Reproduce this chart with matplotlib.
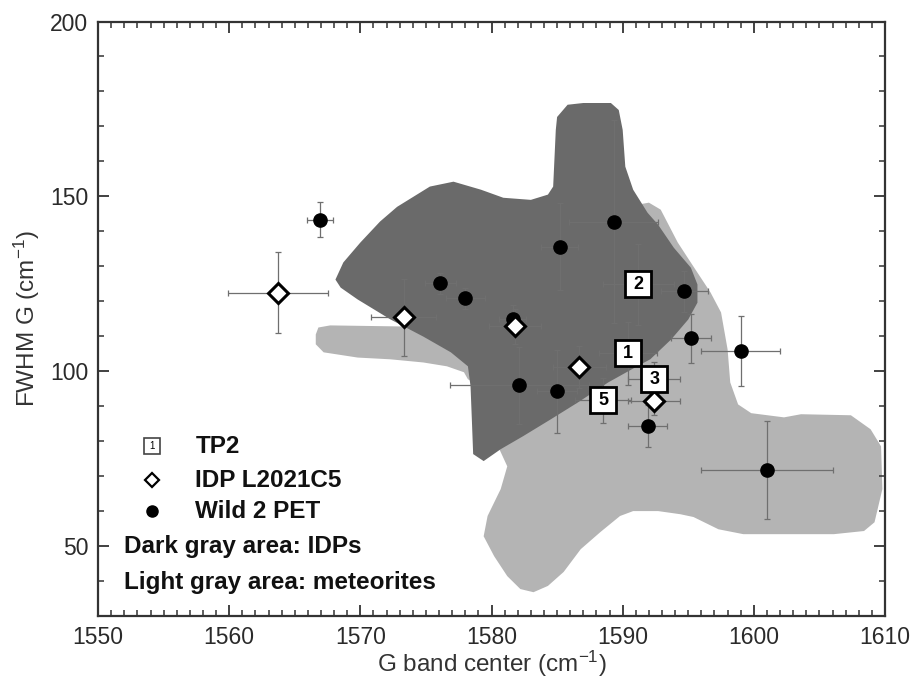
import numpy as np
import matplotlib
matplotlib.use("Agg")
import matplotlib.pyplot as plt
from matplotlib.ticker import MultipleLocator

plt.rcParams['font.family'] = ['Liberation Sans', 'DejaVu Sans']
plt.rcParams['mathtext.default'] = 'regular'

# --- outlines of the shaded fields (G center, FWHM G) ---
dark_x = [1568.1, 1568.7, 1570.0, 1571.5, 1572.8, 1575.3, 1577.1, 1579.2, 1580.9, 1583.0,
          1584.3, 1584.7, 1584.9, 1585.0, 1585.8, 1587.0, 1589.1, 1589.7, 1590.0, 1590.2,
          1590.8, 1591.9, 1592.7, 1593.9, 1595.2, 1595.7, 1595.7, 1595.0, 1593.7, 1592.1,
          1591.1, 1588.9, 1586.6, 1584.5, 1582.4, 1580.7, 1579.4, 1578.6, 1578.5, 1578.4,
          1578.2, 1576.9, 1574.8, 1572.3, 1569.8, 1568.5]
dark_y = [126.2, 131.1, 136.8, 142.8, 147.0, 152.8, 154.2, 151.9, 149.6, 149.0,
          150.5, 152.8, 169.0, 172.7, 176.2, 176.7, 176.7, 174.7, 169.0, 158.5,
          151.9, 145.3, 141.9, 135.3, 129.6, 124.8, 119.6, 114.8, 109.1, 103.4,
          101.4, 96.8, 91.1, 86.2, 81.4, 77.7, 74.3, 76.3, 86.2, 95.7,
          101.4, 105.4, 109.9, 114.8, 120.5, 123.9]

light_x = [1566.8, 1567.7, 1573.1, 1577.6, 1585.3, 1589.8, 1591.1, 1592.0, 1592.9, 1594.2,
           1595.4, 1596.7, 1597.5, 1598.0, 1598.2, 1598.8, 1599.8, 1602.3, 1603.6, 1607.4,
           1608.9, 1609.7, 1609.8, 1609.2, 1608.4, 1606.1, 1599.2, 1597.3, 1595.4, 1594.4,
           1592.7, 1590.8, 1589.8, 1588.3, 1586.8, 1585.5, 1584.3, 1583.2, 1582.2, 1581.2,
           1580.2, 1579.4, 1579.7, 1580.7, 1581.2, 1580.5, 1579.5, 1578.2, 1577.9, 1576.6,
           1574.8, 1572.3, 1569.8, 1567.2, 1566.6, 1566.6]
light_y = [112.5, 113.1, 112.8, 109.1, 134.8, 144.8, 147.6, 148.2, 146.2, 136.8,
           129.9, 122.5, 116.8, 106.2, 96.8, 90.5, 88.0, 86.8, 87.7, 87.4,
           83.4, 78.5, 66.3, 56.8, 54.3, 53.4, 53.4, 54.8, 58.3, 59.1,
           60.0, 60.0, 58.6, 54.0, 49.1, 42.6, 38.6, 36.8, 37.7, 41.4,
           47.1, 52.8, 58.6, 66.3, 72.8, 78.5, 95.0, 97.7, 99.7, 101.4,
           102.5, 103.4, 103.9, 105.4, 107.7, 110.5]

# --- Wild 2 PET particles ---
pet_x = [1566.9, 1576.1, 1578.0, 1585.2, 1589.3, 1594.7, 1595.2, 1599.0, 1582.1, 1585.0,
         1591.9, 1601.0, 1581.6]
pet_y = [143.3, 125.1, 120.8, 135.6, 142.8, 122.8, 109.4, 105.9, 96.0, 94.2,
         84.2, 71.7, 115.0]
pet_xerr = [1.0, 1.2, 1.5, 1.4, 3.4, 1.8, 1.5, 3.0, 5.3, 1.5, 1.5, 5.0, 1.0]
pet_yerr = [5, 3, 3, 12.5, 29, 6, 7, 10, 11, 12, 6, 14, 4]

# --- IDP L2021C5 ---
idp_x = [1563.7, 1573.3, 1581.8, 1586.7, 1592.4]
idp_y = [122.5, 115.4, 112.8, 101.1, 91.4]
idp_xerr = [3.8, 2.5, 2.0, 2.0, 2.0]
idp_yerr = [11.7, 11, 5, 6, 4]

# --- TP2 spots ---
tp2_x = [1590.4, 1591.2, 1592.4, 1588.5]
tp2_y = [105.1, 124.8, 97.7, 91.7]
tp2_labels = ['1', '2', '3', '5']
tp2_xerr = [2.2, 2.7, 2.0, 2.1]
tp2_yerr = [9, 11.5, 5, 6.5]

fig = plt.figure(figsize=(9.12, 6.79), dpi=100)
ax = fig.add_axes([0.1075, 0.0928, 0.8629, 0.8755])

ax.fill(light_x, light_y, color='#b4b4b4', lw=0, zorder=1)
ax.fill(dark_x, dark_y, color='#6a6a6a', lw=0, zorder=2)

eb = dict(fmt='none', ecolor='#6f6f6f', elinewidth=0.9, capsize=2.5, capthick=0.9, zorder=3)
ax.errorbar(pet_x, pet_y, xerr=pet_xerr, yerr=pet_yerr, **eb)
ax.errorbar(idp_x, idp_y, xerr=idp_xerr, yerr=idp_yerr, **eb)
ax.errorbar(tp2_x, tp2_y, xerr=tp2_xerr, yerr=tp2_yerr, **eb)

ax.plot(pet_x, pet_y, 'o', color='black', ms=9.5, zorder=4)
ax.plot(idp_x, idp_y, 'D', mfc='white', mec='black', mew=2.2, ms=10.5, zorder=5)
ax.plot(tp2_x, tp2_y, 's', mfc='white', mec='black', mew=2.0, ms=19, zorder=6)
for x, y, s in zip(tp2_x, tp2_y, tp2_labels):
    ax.text(x, y, s, ha='center', va='center', fontsize=13, fontweight='bold', zorder=7)

# legend block drawn by hand
tr = ax.transAxes
ax.plot([0.0688], [0.2855], 's', mfc='white', mec='#444444', mew=1.2, ms=11, transform=tr, zorder=8)
ax.text(0.0688, 0.2855, '1', transform=tr, ha='center', va='center', fontsize=7, zorder=9)
ax.plot([0.0688], [0.2284], 'D', mfc='white', mec='black', mew=1.6, ms=7, transform=tr, zorder=8)
ax.plot([0.0688], [0.1763], 'o', color='black', ms=8, transform=tr, zorder=8)
leg_font = dict(transform=tr, va='center', ha='left', fontsize=17.5, fontweight='bold', color='#111111')
ax.text(0.1236, 0.2855, 'TP2', **leg_font)
ax.text(0.1236, 0.2284, 'IDP L2021C5', **leg_font)
ax.text(0.1236, 0.1763, 'Wild 2 PET', **leg_font)
ax.text(0.0331, 0.1175, 'Dark gray area: IDPs', **leg_font)
ax.text(0.0331, 0.0571, 'Light gray area: meteorites', **leg_font)

ax.set_xlim(1550, 1610)
ax.set_ylim(30, 200)
ax.xaxis.set_major_locator(MultipleLocator(10))
ax.xaxis.set_minor_locator(MultipleLocator(1))
ax.yaxis.set_major_locator(MultipleLocator(50))
ax.yaxis.set_minor_locator(MultipleLocator(10))
ax.tick_params(which='both', direction='in', top=True, right=True, color='#333333',
               labelsize=16.5, labelcolor='#2a2a2a', pad=7)
ax.tick_params(which='major', length=8, width=1.3)
ax.tick_params(which='minor', length=4.5, width=1.1)
for sp in ax.spines.values():
    sp.set_linewidth(1.6)
    sp.set_color('#333333')

ax.set_xlabel('G band center (cm$^{-1}$)', fontsize=17.5, color='#333333', labelpad=0)
ax.set_ylabel('FWHM G (cm$^{-1}$)', fontsize=17.5, color='#333333', labelpad=6)

fig.savefig('out.png', dpi=100)
